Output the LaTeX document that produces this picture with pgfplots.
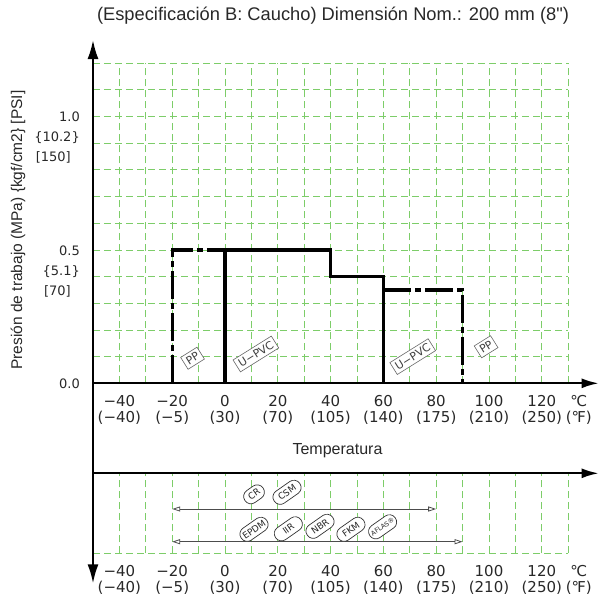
\documentclass[border=0pt]{standalone}
\usepackage{fontspec}
\setmainfont{Liberation Sans}
\newfontfamily\qfont{Liberation Sans}
\newfontfamily\tickfont{DejaVu Sans}
\usepackage{pgfplots}
\pgfplotsset{compat=1.18}
\usetikzlibrary{arrows.meta}
\definecolor{gridg}{RGB}{125,205,105}
\definecolor{txt}{RGB}{40,40,40}
\tikzset{
  pp/.style={black, line width=3.2pt, dash pattern=on 28pt off 4pt on 6pt off 4pt},
  pvc/.style={black, line width=3.2pt},
  boxl/.style={draw=black!60, fill=white, rotate=32, font=\tickfont\fontsize{11}{11}\selectfont, text=black!75, inner xsep=3pt, inner ysep=3pt, text height=8pt, text depth=0pt, line width=0.6pt},
  pill/.style={draw=black!80, fill=white, rounded corners=7pt, rotate=35, minimum width=31pt, minimum height=14.5pt, inner sep=1pt, font=\tickfont\fontsize{9}{9}\selectfont, text=black!85, line width=0.7pt},
  rng/.style={line width=0.8pt, black!70, {Triangle[open,length=8pt,width=5pt]}-{Triangle[open,length=8pt,width=5pt]}},
  axl/.style={line width=2pt, black},
  unitl/.style={font=\tickfont\fontsize{15}{16}\selectfont, align=center, anchor=north, inner sep=0pt, yshift=-11.9pt, text=txt},
}
\begin{document}
\begin{tikzpicture}
\useasboundingbox (0pt,0pt) rectangle (599pt,-602pt);
\pgfplotsset{
  common/.style={
    x=2.64pt, xmin=-50, xmax=130, clip=false,
    axis lines*=left, axis line style={draw=none}, tick style={draw=none},
    major tick length=0pt, minor tick length=0pt,
    xtick={-40,-20,0,20,40,60,80,100,120},
    minor xtick={-30,-10,10,30,50,70,90,110,130},
    xticklabels={{−40\\(−40)},{−20\\(−5)},{0\\(30)},{20\\(70)},{40\\(105)},{60\\(140)},{80\\(175)},{100\\(210)},{120\\(250)}},
    xticklabel style={font=\tickfont\fontsize{15}{16}\selectfont, align=center, anchor=north, inner sep=0pt, yshift=-11.9pt, text=txt},
    grid=both,
    major grid style={gridg, line width=0.9pt, dash pattern=on 7pt off 4pt},
    minor grid style={gridg, line width=0.9pt, dash pattern=on 7pt off 4pt},
  },
}
% ---------------- upper panel ----------------
\begin{axis}[common,
  at={(93pt,-383.3pt)}, anchor=south west,
  y=266.7pt, ymin=0, ymax=1.2,
  ytick={0,0.5,1},
  minor ytick={0.1,0.2,0.3,0.4,0.6,0.7,0.8,0.9,1.1,1.2},
  yticklabels={{0.0},{0.5\\\{5.1\}\\{}[70]\hspace*{9pt}},{1.0\\\{10.2\}\\{}[150]\hspace*{9pt}}},
  yticklabel style={font=\tickfont\fontsize{13}{20}\selectfont, align=right, anchor=north east, inner sep=0pt, xshift=-13pt, yshift=4.75pt, text=txt},
  title={(Especificación B: Caucho) Dimensión Nom.: 200 mm (8{\qfont"})},
  title style={at={(axis description cs:0.505,1.129)}, anchor=center, font=\fontsize{18.3}{20}\selectfont, text=txt},
  ylabel={Presión de trabajo (MPa) \{kgf/cm2\} [PSI]},
  ylabel style={at={(axis description cs:-0.158,0.479)}, anchor=center, font=\fontsize{15.5}{18}\selectfont, text=txt},
  xlabel={Temperatura},
  xlabel style={at={(axis description cs:0.5145,-0.211)}, anchor=center, font=\fontsize{16}{18}\selectfont, text=txt},
]
\addplot[pp] coordinates {(-20,0) (-20,0.5) (0,0.5)};
\addplot[pvc] coordinates {(0,0) (0,0.5) (40,0.5) (40,0.4) (60,0.4) (60,0)};
\addplot[pp] coordinates {(60,0.35) (90,0.35) (90,0)};
\draw[axl, -{Latex[length=19pt,width=11pt]}] (axis cs:-50,0) -- (axis cs:-50,1.287);
\draw[axl, -{Latex[length=17pt,width=10pt]}] (axis cs:-50,0) -- (axis cs:141.5,0);
\node[boxl] at (axis cs:-12.3,0.094) {PP};
\node[boxl] at (axis cs:11.7,0.11) {U−PVC};
\node[boxl] at (axis cs:71.1,0.10) {U−PVC};
\node[boxl] at (axis cs:98.9,0.137) {PP};
\node[unitl] at (axis cs:134,0) {℃\\(℉)};
\end{axis}
% ---------------- lower panel ----------------
\begin{axis}[common,
  at={(93pt,-473.3pt)}, anchor=north west,
  y=1pt, ymin=-80, ymax=0,
  ytick={-80}, yticklabels={{\relax}},
]
\addplot[rng] coordinates {(-20,-35.7) (80,-35.7)};
\addplot[rng] coordinates {(-20,-68.4) (90,-68.4)};
\draw[axl, -{Latex[length=19pt,width=11pt]}] (axis cs:-50,90) -- (axis cs:-50,-110);
\draw[axl, -{Latex[length=17pt,width=10pt]}] (axis cs:-50,0) -- (axis cs:141.5,0);
\node[pill, minimum width=22pt] at (axis cs:11,-21) {CR};
\node[pill] at (axis cs:23.5,-19) {CSM};
\node[pill] at (axis cs:11,-56) {EPDM};
\node[pill] at (axis cs:24,-55.5) {IIR};
\node[pill] at (axis cs:36,-53) {NBR};
\node[pill] at (axis cs:47.7,-56) {FKM};
\node[pill, font=\tickfont\fontsize{6.5}{7}\selectfont] at (axis cs:59.7,-53.5) {AFLAS®};
\node[unitl] at (axis cs:134,-80) {℃\\(℉)};
\end{axis}
\end{tikzpicture}
\end{document}
